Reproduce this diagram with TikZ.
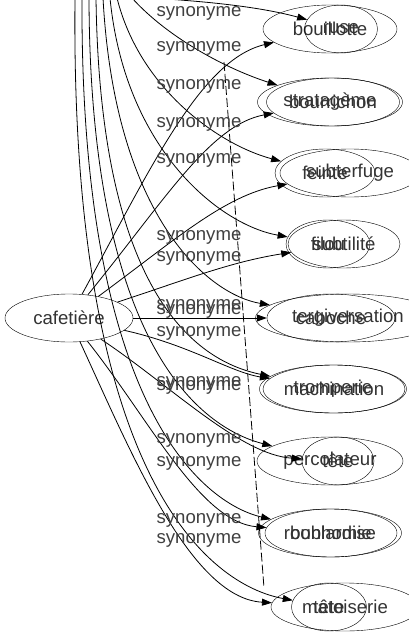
\documentclass[tikz,border=0pt]{standalone}
\usepackage{fontspec}
\setmainfont{Liberation Sans}
\usetikzlibrary{arrows.meta,shapes.geometric}
\begin{document}
\begin{tikzpicture}[x=1pt,y=-1pt,
  ell/.style={draw,ellipse,inner sep=0pt,minimum height=48pt,font=\fontsize{18.6}{20}\selectfont,text=black!80},
  lbl/.style={font=\fontsize{18.6}{20}\selectfont,text=black!75,inner sep=0pt},
  edge/.style={draw,line width=0.8pt,-{Triangle[length=10pt,width=7pt]}},
  dashedge/.style={draw,line width=0.8pt,dashed,dash pattern=on 9pt off 3pt}]
\useasboundingbox (0,0) rectangle (409,635);
\clip (0,0) rectangle (409,635);
\fill[white] (0,0) rectangle (409,635);
% main node
\node[ell,minimum width=128pt] (caf) at (69,318) {cafetière};
% right nodes
\node[ell,minimum width=134pt] (r1a) at (330,29) {bouillotte};
\node[ell,minimum width=73pt] (r1b) at (341,29) {ruse};
\node[ell,minimum width=145pt] (r2a) at (330,102) {stratagème};
\node[ell,minimum width=133pt] (r2b) at (333,102) {bourrichon};
\node[ell,minimum width=100pt] (r3a) at (325,173) {feinte};
\node[ell,minimum width=140pt] (r3b) at (350,173) {subterfuge};
\node[ell,minimum width=84pt] (r4a) at (328,244) {filou};
\node[ell,minimum width=112pt] (r4b) at (344,244) {subtilité};
\node[ell,minimum width=185pt] (r5a) at (348,318) {tergiversation};
\node[ell,minimum width=128pt] (r5b) at (331,318) {caboche};
\node[ell,minimum width=147pt] (r6a) at (333,389) {tromperie};
\node[ell,minimum width=135pt] (r6b) at (334,389) {machination};
\node[ell,minimum width=146pt] (r7a) at (330,461) {percolateur};
\node[ell,minimum width=72pt] (r7b) at (338,461) {tête};
\node[ell,minimum width=143pt] (r8a) at (330,533) {roublardise};
\node[ell,minimum width=132pt] (r8b) at (331,533) {bonhomie};
\node[ell,minimum width=148pt] (r9a) at (345,607) {matoiserie};
\node[ell,minimum width=75pt] (r9b) at (329,607) {tête};
% free ends at the top
\coordinate (t1) at (152,-2);
\coordinate (t2) at (132,-2);
\coordinate (t3) at (117,-2);
\coordinate (t4) at (110,-2);
\coordinate (t5) at (103,-2);
\coordinate (t6) at (96,-2);
\coordinate (t7) at (89,-2);
\coordinate (t8) at (82,-2);
\coordinate (t9) at (75,-2);
\coordinate (d1) at (224,62);
\coordinate (d2) at (264,588);
% edges from cafetière
\path[edge] (caf) .. controls (150,170) and (200,60) .. (r1a);
\path[edge] (caf) .. controls (165,200) and (210,125) .. (r2b);
\path[edge] (caf) .. controls (175,240) and (225,195) .. (r3b);
\path[edge] (caf) .. controls (185,280) and (230,262) .. (r4b);
\path[edge] (caf) -- (r5b);
\path[edge] (caf) .. controls (190,345) and (230,372) .. (r6b);
\path[edge] (caf) .. controls (170,385) and (240,455) .. (r7b);
\path[edge] (caf) .. controls (150,420) and (200,522) .. (r8b);
\path[edge] (caf) .. controls (130,450) and (190,598) .. (r9a);
% edges from above
\path[edge] (t1) .. controls (180,0) and (250,4) .. (r1b);
\path[edge] (t2) .. controls (170,40) and (230,70) .. (r2a);
\path[edge] (t3) .. controls (140,90) and (220,145) .. (r3a);
\path[edge] (t4) .. controls (125,150) and (220,225) .. (r4a);
\path[edge] (t5) .. controls (115,220) and (210,295) .. (r5a);
\path[edge] (t6) .. controls (100,300) and (200,362) .. (r6a);
\path[edge] (t7) .. controls (90,360) and (210,430) .. (r7a);
\path[edge] (t8) .. controls (80,420) and (210,505) .. (r8a);
\path[edge] (t9) .. controls (70,480) and (210,585) .. (r9b);
\path[dashedge] (d1) -- (d2);
% labels
\foreach \y/\n in {13/l1,48/l2,86/l3,124/l4,160/l5,237/l6,258/l7,306/l8,311/l9,333/l10,383/l11,387/l12,440/l13,463/l14,520/l15,540/l16}
  \node[lbl] (\n) at (199,\y) {synonyme};
\end{tikzpicture}
\end{document}
